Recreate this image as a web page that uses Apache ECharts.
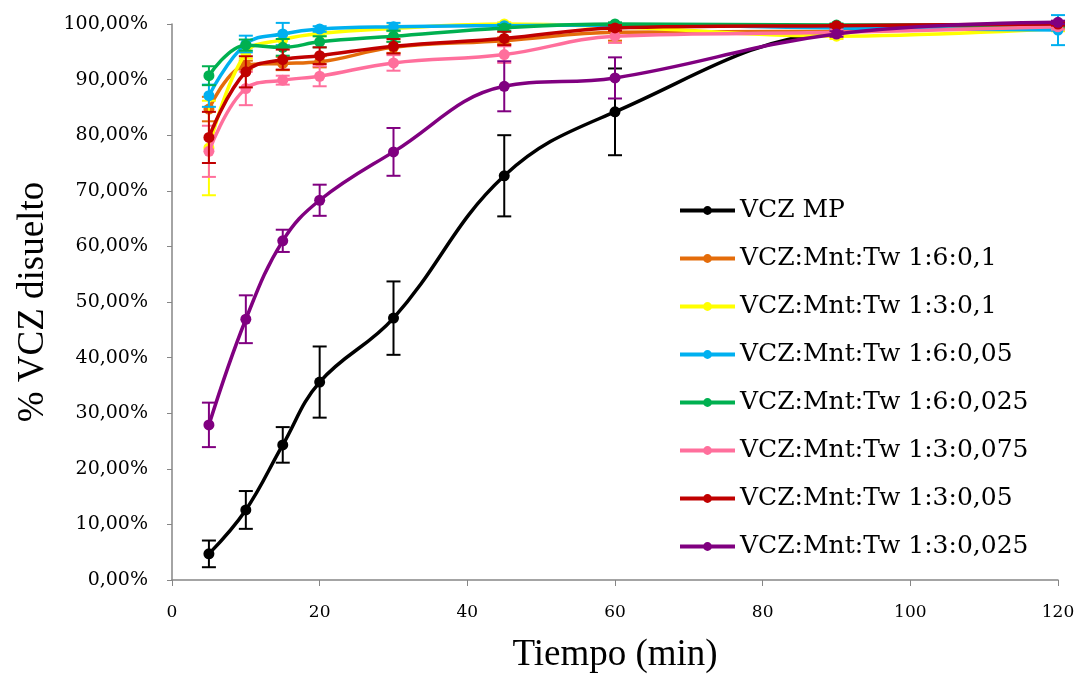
<!DOCTYPE html>
<html>
<head>
<meta charset="utf-8">
<script src="https://cdn.jsdelivr.net/npm/echarts@6/dist/echarts.min.js"></script>
<style>html,body{margin:0;padding:0;background:#fff;}#chart{width:1081px;height:675px;}</style>
</head>
<body>
<div id="chart"></div>
<script>
const times = [5, 10, 15, 20, 30, 45, 60, 90, 120];
const seriesNames = ['VCZ MP','VCZ:Mnt:Tw 1:6:0,1','VCZ:Mnt:Tw 1:3:0,1','VCZ:Mnt:Tw 1:6:0,05','VCZ:Mnt:Tw 1:6:0,025','VCZ:Mnt:Tw 1:3:0,075','VCZ:Mnt:Tw 1:3:0,05','VCZ:Mnt:Tw 1:3:0,025'];
const colors = ['#000000','#E46C0A','#FFFF00','#00B0F0','#00B050','#FF6F9C','#C00000','#800080'];

const vczMP      = [4.7, 12.6, 24.3, 35.6, 47.1, 72.7, 84.2, 98.6, 100.0];
const vczMP_err  = [2.4, 3.4, 3.2, 6.4, 6.6, 7.3, 7.8, 0.5, 0.3];
const mnt160_1   = [84.7, 92.6, 92.9, 93.2, 95.8, 97.0, 98.5, 98.7, 99.7];
const mnt160_1e  = [2.2, 0.8, 1.2, 1.0, 1.0, 0.6, 1.5, 0.5, 0.5];
const mnt130_1   = [77.7, 94.8, 97.2, 98.3, 99.2, 100.0, 99.5, 97.8, 99.2];
const mnt130_1e  = [8.5, 1.0, 1.0, 0.5, 0.5, 0.3, 0.3, 0.5, 0.5];
const mnt160_05  = [87.1, 96.4, 98.2, 99.1, 99.5, 99.7, 99.8, 99.3, 98.9];
const mnt160_05e = [2.0, 1.5, 2.0, 0.5, 0.7, 0.3, 0.3, 0.5, 2.7];
const mnt160_025 = [90.7, 96.2, 95.8, 96.8, 97.8, 99.3, 100.0, 99.8, 99.8];
const mnt160_025e= [1.7, 1.0, 1.5, 1.0, 1.0, 0.5, 0.3, 0.3, 0.3];
const mnt130_075 = [77.1, 88.4, 89.9, 90.6, 93.0, 94.5, 97.8, 98.5, 99.5];
const mnt130_075e= [4.6, 3.0, 0.8, 1.8, 1.4, 1.5, 1.2, 0.5, 0.5];
const mnt130_05  = [79.6, 91.4, 93.6, 94.3, 96.0, 97.4, 99.3, 99.7, 100.0];
const mnt130_05e = [4.6, 2.8, 1.8, 1.5, 1.3, 1.2, 0.5, 0.3, 0.3];
const mnt130_025 = [27.9, 46.9, 61.0, 68.3, 77.0, 88.8, 90.3, 98.2, 100.3];
const mnt130_025e= [4.0, 4.3, 2.0, 2.8, 4.3, 4.5, 3.7, 0.5, 0.3];

const allValues = [vczMP, mnt160_1, mnt130_1, mnt160_05, mnt160_025, mnt130_075, mnt130_05, mnt130_025];
const allErrors = [vczMP_err, mnt160_1e, mnt130_1e, mnt160_05e, mnt160_025e, mnt130_075e, mnt130_05e, mnt130_025e];

const serif = 'DejaVu Serif';
const series = [];
allValues.forEach((vals, i) => {
  const color = colors[i];
  series.push({
    name: seriesNames[i], type: 'line', smooth: 0.4, clip: false,
    data: times.map((t, k) => [t, vals[k]]),
    symbol: 'circle', symbolSize: 11,
    lineStyle: { color: color, width: 3.5 },
    itemStyle: { color: color },
    z: 3 + i * 2
  });
  series.push({
    type: 'custom', name: seriesNames[i] + ' err', silent: true,
    data: times.map((t, k) => [t, vals[k], allErrors[i][k]]),
    z: 4 + i * 2,
    renderItem: function (params, api) {
      const x = api.value(0), y = api.value(1), e = api.value(2);
      const top = api.coord([x, y + e]);
      const bot = api.coord([x, y - e]);
      const w = 7;
      const st = { stroke: color, lineWidth: 2 };
      return { type: 'group', children: [
        { type: 'line', shape: { x1: top[0], y1: top[1], x2: bot[0], y2: bot[1] }, style: st },
        { type: 'line', shape: { x1: top[0] - w, y1: top[1], x2: top[0] + w, y2: top[1] }, style: st },
        { type: 'line', shape: { x1: bot[0] - w, y1: bot[1], x2: bot[0] + w, y2: bot[1] }, style: st }
      ]};
    }
  });
});

const chart = echarts.init(document.getElementById('chart'));
chart.setOption({
  animation: false,
  backgroundColor: '#ffffff',
  grid: { left: 172, right: 23, top: 24, bottom: 95, containLabel: false, outerBoundsMode: 'none' },
  legend: {
    data: seriesNames, orient: 'vertical', left: 673, top: 193,
    itemWidth: 55, itemHeight: 11, itemGap: 23,
    lineStyle: { width: 4 },
    textStyle: { fontFamily: serif, fontSize: 25, color: '#000' }
  },
  xAxis: {
    type: 'value', min: 0, max: 120, interval: 20,
    name: 'Tiempo (min)', nameLocation: 'middle', nameGap: 57,
    nameTextStyle: { fontFamily: 'Liberation Serif', fontSize: 37, color: '#000' },
    axisLine: { lineStyle: { color: '#868686', width: 1.5 } },
    axisTick: { show: true, length: 6, lineStyle: { color: '#868686' } },
    axisLabel: { fontFamily: serif, fontSize: 17, color: '#000', margin: 24 },
    splitLine: { show: false }
  },
  yAxis: {
    type: 'value', min: 0, max: 100, interval: 10,
    name: '% VCZ disuelto', nameLocation: 'middle', nameGap: 120, nameRotate: 90,
    nameTextStyle: { fontFamily: 'Liberation Serif', fontSize: 37, color: '#000' },
    axisLine: { show: true, lineStyle: { color: '#868686', width: 1.5 } },
    axisTick: { show: true, length: 5, lineStyle: { color: '#868686' } },
    axisLabel: { fontFamily: serif, fontSize: 19, color: '#000', margin: 24,
      formatter: v => v.toFixed(2).replace('.', ',') + '%' },
    splitLine: { show: false }
  },
  series: series
});
</script>
</body>
</html>
